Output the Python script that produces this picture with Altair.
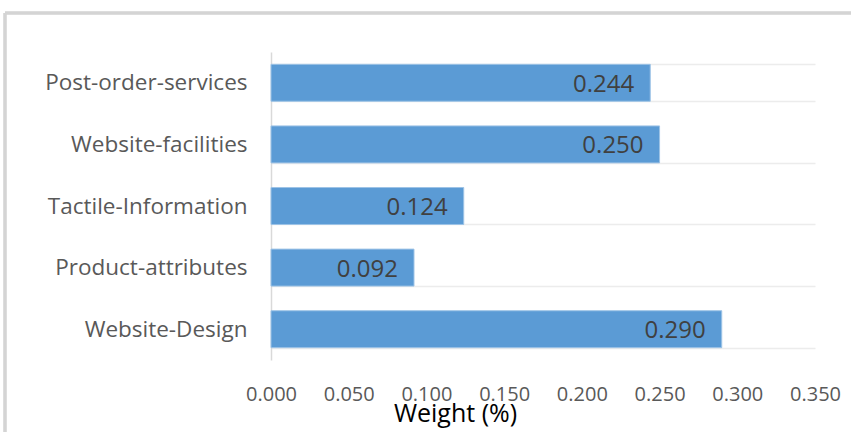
import altair as alt
import pandas as pd

# Criteria weights
criteria = [
    "Post-order-services",
    "Website-facilities",
    "Tactile-Information",
    "Product-attributes",
    "Website-Design",
]
weights = [0.244, 0.250, 0.124, 0.092, 0.290]
x_ticks = [0.0, 0.05, 0.10, 0.15, 0.20, 0.25, 0.30, 0.35]

df = pd.DataFrame({"criterion": criteria, "weight": weights})

FONT = "Open Sans"
W, H = 544, 308

y_enc = alt.Y(
    "criterion:N",
    sort=criteria,
    title=None,
    scale=alt.Scale(paddingInner=0.4, paddingOuter=0.2),
    axis=alt.Axis(
        grid=True,
        tickBand="extent",
        gridColor="#ececec",
        gridWidth=1.5,
        domain=True,
        domainColor="#d9d9d9",
        domainWidth=1.5,
        ticks=False,
        labelFont=FONT,
        labelFontSize=22.5,
        labelColor="#595959",
        labelPadding=24,
        labelLimit=300,
        labelBaseline="middle",
    ),
)

x_enc = alt.X(
    "weight:Q",
    scale=alt.Scale(domain=[0, 0.35], nice=False),
    title="Weight (%)",
    axis=alt.Axis(
        values=x_ticks,
        format=".3f",
        grid=False,
        domain=False,
        ticks=False,
        labelFont=FONT,
        labelFontSize=20,
        labelColor="#595959",
        labelPadding=24,
        labelFlush=False,
        titleFont=FONT,
        titleFontSize=25,
        titleFontWeight="normal",
        titleColor="#000000",
        titleAnchor="start",
        titleX=184,
        titleY=53,
        titleAlign="center",
        titleBaseline="middle",
    ),
)

bars = alt.Chart(df).mark_bar(
    color="#5b9bd5", stroke="#9dc3e6", strokeWidth=1
).encode(x=x_enc, y=y_enc)

labels = alt.Chart(df).mark_text(
    align="right", baseline="middle", dx=-16, dy=2,
    font=FONT, fontSize=24, color="#404040",
).encode(
    x=alt.X("weight:Q"),
    y=alt.Y("criterion:N", sort=criteria),
    text=alt.Text("weight:Q", format=".3f"),
)

# Outer chart frame (top and left edges)
frame_top = alt.Chart(df).mark_rule(color="#d4d4d4", strokeWidth=2.5).encode(
    x=alt.value(-266), x2=alt.value(W + 40), y=alt.value(-39)
)
frame_left = alt.Chart(df).mark_rule(color="#d4d4d4", strokeWidth=2.5).encode(
    x=alt.value(-266), y=alt.value(-39), y2=alt.value(H + 80)
)

chart = (
    alt.layer(frame_top, frame_left, bars, labels)
    .properties(
        width=W,
        height=H,
        autosize=alt.AutoSizeParams(type="none"),
        padding={"left": 271, "top": 52, "right": 36, "bottom": 72},
        background="white",
    )
    .configure_view(stroke=None)
)

chart.save("out.html", embed_options={"renderer": "svg", "actions": False})
